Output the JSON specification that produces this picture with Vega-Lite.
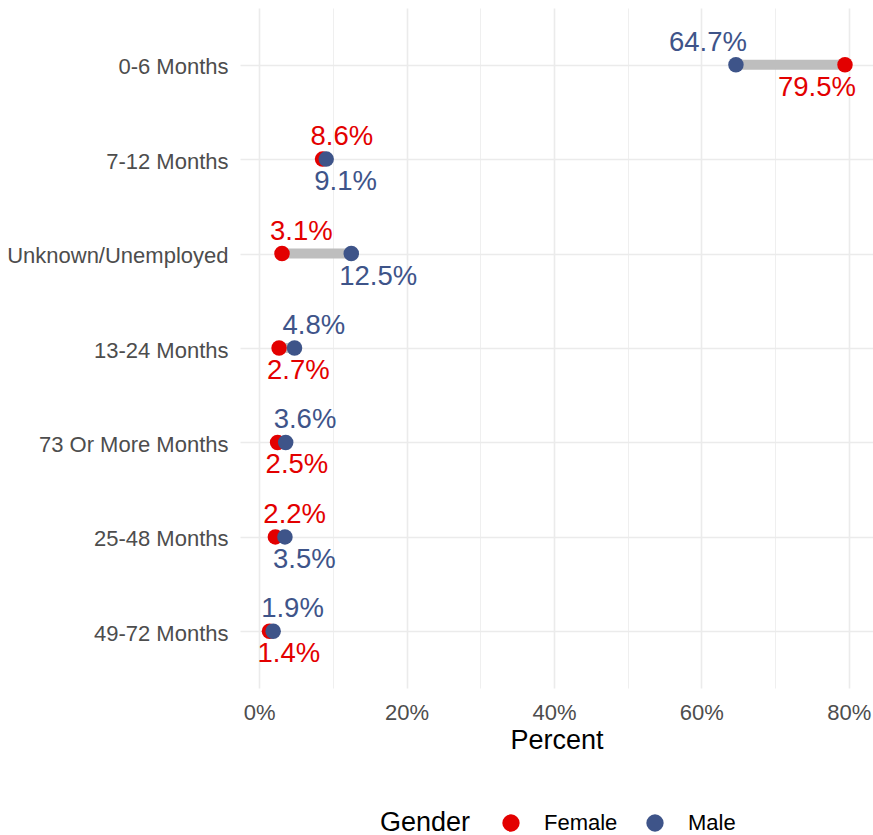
{
  "$schema": "https://vega.github.io/schema/vega-lite/v6.json",
  "width": 633,
  "height": 680,
  "autosize": "none",
  "padding": {"left": 240, "top": 8, "right": 0, "bottom": 147},
  "background": "white",
  "config": {
    "font": "Liberation Sans",
    "view": {"stroke": null},
    "axis": {"gridColor": "#EBEBEB", "domain": false, "ticks": false, "labelFont": "Liberation Sans", "titleFont": "Liberation Sans"}
  },
  "data": {
    "values": [
      {"tenure": "0-6 Months", "Gender": "Female", "value": 0.795, "labelSide": "below"},
      {"tenure": "7-12 Months", "Gender": "Female", "value": 0.086, "labelSide": "above"},
      {"tenure": "Unknown/Unemployed", "Gender": "Female", "value": 0.031, "labelSide": "above"},
      {"tenure": "13-24 Months", "Gender": "Female", "value": 0.027, "labelSide": "below"},
      {"tenure": "73 Or More Months", "Gender": "Female", "value": 0.025, "labelSide": "below"},
      {"tenure": "25-48 Months", "Gender": "Female", "value": 0.022, "labelSide": "above"},
      {"tenure": "49-72 Months", "Gender": "Female", "value": 0.014, "labelSide": "below"},
      {"tenure": "0-6 Months", "Gender": "Male", "value": 0.647, "labelSide": "above"},
      {"tenure": "7-12 Months", "Gender": "Male", "value": 0.091, "labelSide": "below"},
      {"tenure": "Unknown/Unemployed", "Gender": "Male", "value": 0.125, "labelSide": "below"},
      {"tenure": "13-24 Months", "Gender": "Male", "value": 0.048, "labelSide": "above"},
      {"tenure": "73 Or More Months", "Gender": "Male", "value": 0.036, "labelSide": "above"},
      {"tenure": "25-48 Months", "Gender": "Male", "value": 0.035, "labelSide": "below"},
      {"tenure": "49-72 Months", "Gender": "Male", "value": 0.019, "labelSide": "above"}
    ]
  },
  "encoding": {
    "y": {
      "field": "tenure",
      "type": "nominal",
      "sort": ["0-6 Months", "7-12 Months", "Unknown/Unemployed", "13-24 Months", "73 Or More Months", "25-48 Months", "49-72 Months"],
      "scale": {"type": "point", "padding": 0.6},
      "axis": {"title": null, "labelFontSize": 22, "labelColor": "#4D4D4D", "labelPadding": 12, "labelLimit": 400, "labelBaseline": "middle", "labelOffset": 2, "grid": true, "gridWidth": 1.6}
    }
  },
  "layer": [
    {
      "mark": {"type": "rule", "color": "#BEBEBE", "strokeWidth": 10},
      "encoding": {
        "x": {
          "aggregate": "min", "field": "value", "type": "quantitative",
          "scale": {"domain": [-0.026, 0.833], "nice": false, "zero": false},
          "axis": {
            "title": "Percent",
            "values": [0, 0.1, 0.2, 0.3, 0.4, 0.5, 0.6, 0.7, 0.8],
            "labelExpr": "round(datum.value * 10) % 2 === 0 ? format(datum.value, '.0%') : ''",
            "labelFontSize": 22,
            "labelColor": "#4D4D4D",
            "labelPadding": 14,
            "titleFontSize": 27,
            "titleFontWeight": "normal",
            "titleColor": "#000000",
            "titlePadding": 4,
            "grid": true,
            "gridWidth": {"condition": {"test": "round(datum.value * 10) % 2 === 0", "value": 1.6}, "value": 0.8}
          }
        },
        "x2": {"aggregate": "max", "field": "value"}
      }
    },
    {
      "mark": {"type": "point", "filled": true, "opacity": 1, "size": 240, "shape": "circle"},
      "encoding": {
        "x": {"field": "value", "type": "quantitative"},
        "color": {
          "field": "Gender",
          "type": "nominal",
          "scale": {"domain": ["Female", "Male"], "range": ["#E30000", "#3E5489"]},
          "legend": {
            "orient": "none",
            "legendX": 140,
            "legendY": 804,
            "direction": "horizontal",
            "titleOrient": "left",
            "title": "Gender",
            "titleFontSize": 27,
            "titleFontWeight": "normal",
            "titleColor": "#000000",
            "titlePadding": 29,
            "labelFontSize": 22,
            "labelColor": "#000000",
            "labelOffset": 22,
            "columnPadding": 26,
            "symbolSize": 300,
            "symbolType": "circle",
            "symbolStrokeWidth": 0,
            "symbolOpacity": 1
          }
        },
        "order": {"field": "Gender", "sort": "ascending"}
      }
    },
    {
      "transform": [{"filter": "datum.labelSide === 'above' && datum.value < 0.4"}],
      "mark": {"type": "text", "fontSize": 27.5, "align": "left", "baseline": "middle", "dx": -12, "dy": -22},
      "encoding": {
        "x": {"field": "value", "type": "quantitative"},
        "text": {"field": "value", "type": "quantitative", "format": ".1%"},
        "color": {"field": "Gender", "type": "nominal", "legend": null}
      }
    },
    {
      "transform": [{"filter": "datum.labelSide === 'below' && datum.value < 0.4"}],
      "mark": {"type": "text", "fontSize": 27.5, "align": "left", "baseline": "middle", "dx": -12, "dy": 23},
      "encoding": {
        "x": {"field": "value", "type": "quantitative"},
        "text": {"field": "value", "type": "quantitative", "format": ".1%"},
        "color": {"field": "Gender", "type": "nominal", "legend": null}
      }
    },
    {
      "transform": [{"filter": "datum.labelSide === 'above' && datum.value >= 0.4"}],
      "mark": {"type": "text", "fontSize": 27.5, "align": "right", "baseline": "middle", "dx": 11, "dy": -22},
      "encoding": {
        "x": {"field": "value", "type": "quantitative"},
        "text": {"field": "value", "type": "quantitative", "format": ".1%"},
        "color": {"field": "Gender", "type": "nominal", "legend": null}
      }
    },
    {
      "transform": [{"filter": "datum.labelSide === 'below' && datum.value >= 0.4"}],
      "mark": {"type": "text", "fontSize": 27.5, "align": "right", "baseline": "middle", "dx": 11, "dy": 23},
      "encoding": {
        "x": {"field": "value", "type": "quantitative"},
        "text": {"field": "value", "type": "quantitative", "format": ".1%"},
        "color": {"field": "Gender", "type": "nominal", "legend": null}
      }
    }
  ]
}
